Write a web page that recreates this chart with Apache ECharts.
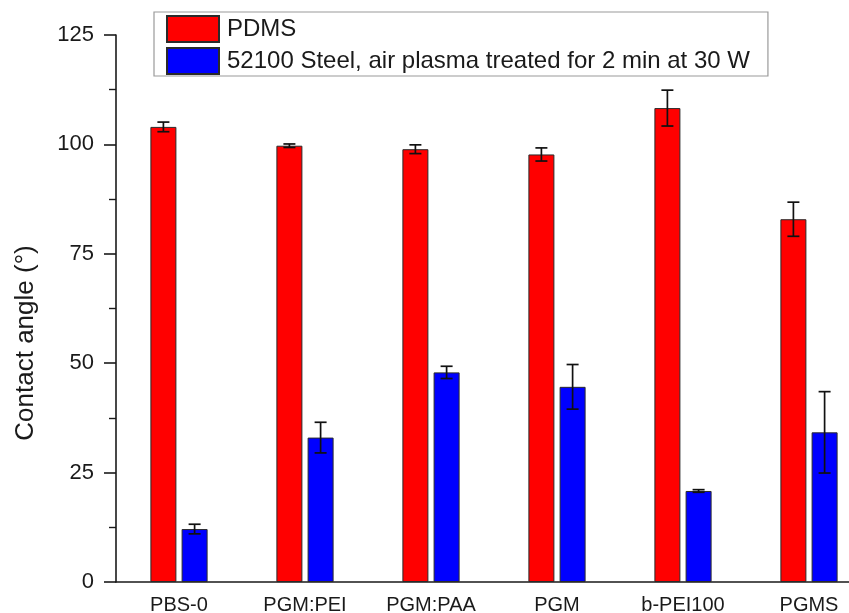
<!DOCTYPE html>
<html>
<head>
<meta charset="utf-8">
<script src="https://cdn.jsdelivr.net/npm/echarts@6/dist/echarts.min.js"></script>
<style>
  html, body { margin: 0; padding: 0; background: #fff; }
  #chart { width: 849px; height: 613px; }
</style>
</head>
<body>
<div id="chart"></div>
<script>
// Water contact angle per coating, on PDMS and on plasma-treated steel
const categories = ['PBS-0', 'PGM:PEI', 'PGM:PAA', 'PGM', 'b-PEI100', 'PGMS'];
const pdmsMean = [104.0, 99.7, 98.9, 97.7, 108.3, 82.9];
const pdmsErr = [1.1, 0.4, 1.0, 1.5, 4.1, 3.9];
const steelMean = [12.1, 33.0, 47.9, 44.6, 20.8, 34.2];
const steelErr = [1.1, 3.5, 1.4, 5.1, 0.3, 9.3];
const yTicks = [0, 25, 50, 75, 100, 125];

const seriesNames = ['PDMS', '52100 Steel, air plasma treated for 2 min at 30 W'];

const FONT = '"Liberation Sans", Arial, sans-serif';
const BAR_W = 26;
const BAR_GAP = 0.2; // fraction of bar width

// Error bar: vertical whisker with caps, shifted to sit on its bar
function errorBarRenderer(offsetSign) {
  return function (params, api) {
    const i = api.value(0);
    const lo = api.coord([i, api.value(1)]);
    const hi = api.coord([i, api.value(2)]);
    const shift = offsetSign * (BAR_W + BAR_W * BAR_GAP) / 2;
    const x = lo[0] + shift;
    const cap = 6;
    const style = { stroke: '#111', lineWidth: 1.7 };
    return {
      type: 'group',
      children: [
        { type: 'line', shape: { x1: x, y1: lo[1], x2: x, y2: hi[1] }, style },
        { type: 'line', shape: { x1: x - cap, y1: hi[1], x2: x + cap, y2: hi[1] }, style },
        { type: 'line', shape: { x1: x - cap, y1: lo[1], x2: x + cap, y2: lo[1] }, style }
      ]
    };
  };
}

function errData(mean, err) {
  return mean.map((m, i) => [i, m - err[i], m + err[i]]);
}

const chart = echarts.init(document.getElementById('chart'), null, { renderer: 'canvas' });

chart.setOption({
  animation: false,
  backgroundColor: '#fff',
  textStyle: { fontFamily: FONT },
  // the plot area runs past the right edge of the canvas, so the last band is clipped
  grid: { left: 116, top: 35, bottom: 31, width: 756, containLabel: false, outerBoundsMode: 'none' },
  legend: {
    orient: 'vertical',
    left: 154,
    top: 12,
    padding: [3, 18, 1, 12],
    itemWidth: 52,
    itemHeight: 26,
    itemGap: 4,
    icon: 'rect',
    borderColor: '#9a9a9a',
    borderWidth: 1.2,
    data: seriesNames,
    textStyle: { fontFamily: FONT, fontSize: 24, color: '#1a1a1a', padding: [0, 0, 0, 3] }
  },
  xAxis: {
    type: 'category',
    data: categories,
    axisLine: { lineStyle: { color: '#1a1a1a', width: 1.6 } },
    axisTick: { show: false },
    axisLabel: { fontFamily: FONT, fontSize: 20, color: '#1a1a1a', margin: 13 },
    splitLine: { show: false }
  },
  yAxis: {
    type: 'value',
    min: yTicks[0],
    max: yTicks[yTicks.length - 1],
    interval: yTicks[1] - yTicks[0],
    axisLine: { show: true, lineStyle: { color: '#1a1a1a', width: 1.6 } },
    axisTick: { show: true, length: 12, lineStyle: { color: '#1a1a1a', width: 1.6 } },
    minorTick: { show: true, splitNumber: 2, length: 7, lineStyle: { color: '#1a1a1a', width: 1.4 } },
    axisLabel: { fontFamily: FONT, fontSize: 22, color: '#1a1a1a', margin: 22 },
    splitLine: { show: false }
  },
  graphic: [{
    type: 'text',
    x: 26,
    y: 343,
    rotation: Math.PI / 2,
    style: {
      text: 'Contact angle (°)',
      fontFamily: FONT,
      fontSize: 26,
      fill: '#1a1a1a',
      textAlign: 'center',
      textVerticalAlign: 'middle'
    }
  }],
  series: [
    {
      name: seriesNames[0],
      type: 'bar',
      data: pdmsMean,
      barWidth: BAR_W,
      barGap: (BAR_GAP * 100) + '%',
      itemStyle: { color: '#ff0000', borderColor: '#2a2a2a', borderWidth: 1 }
    },
    {
      name: seriesNames[1],
      type: 'bar',
      data: steelMean,
      barWidth: BAR_W,
      barGap: (BAR_GAP * 100) + '%',
      itemStyle: { color: '#0000ff', borderColor: '#2a2a2a', borderWidth: 1 }
    },
    {
      type: 'custom',
      renderItem: errorBarRenderer(-1),
      data: errData(pdmsMean, pdmsErr),
      encode: { x: 0, y: [1, 2] },
      z: 10
    },
    {
      type: 'custom',
      renderItem: errorBarRenderer(1),
      data: errData(steelMean, steelErr),
      encode: { x: 0, y: [1, 2] },
      z: 10
    }
  ]
});
</script>
</body>
</html>
